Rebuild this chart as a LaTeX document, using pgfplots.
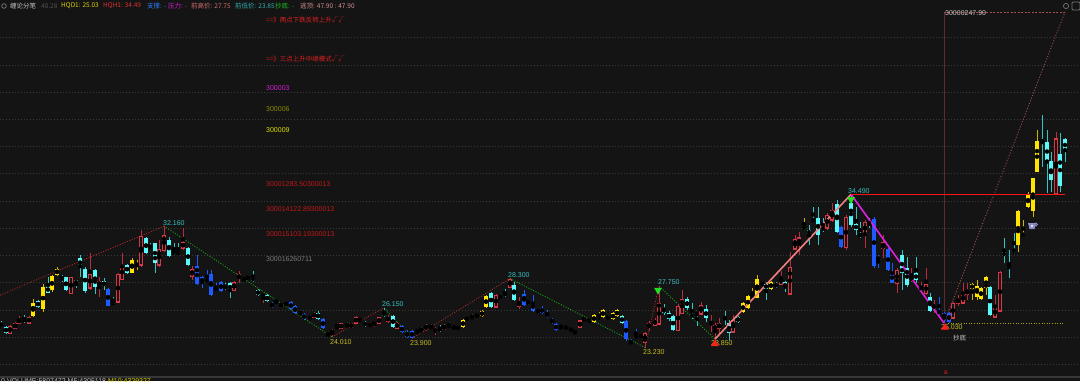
\documentclass[border=0pt]{standalone}
\usepackage{fontspec}
\setmainfont{Liberation Sans}
\newfontfamily\cjk{Noto Sans CJK SC}
\usepackage{pgfplots}
\pgfplotsset{compat=1.18}
\usepackage{pgfplotstable}
\definecolor{bg}{HTML}{141414}
\definecolor{gridc}{HTML}{3A3A3A}
\definecolor{cyb}{HTML}{5AF8F8}
\definecolor{cyw}{HTML}{34C4C4}
\definecolor{blb}{HTML}{1E5BFF}
\definecolor{rdb}{HTML}{D63848}
\definecolor{rdw}{HTML}{B82E40}
\definecolor{yeb}{HTML}{FFE400}
\definecolor{yew}{HTML}{D0B400}
\definecolor{zzred}{HTML}{A82828}
\definecolor{zzgreen}{HTML}{17A317}
\definecolor{salmon}{HTML}{F08080}
\definecolor{magline}{HTML}{E020E0}
\definecolor{brownd}{HTML}{A05050}
\definecolor{vline}{HTML}{5A2C2C}
\definecolor{hred}{HTML}{FF1414}
\definecolor{ydot}{HTML}{A8A800}
\definecolor{lblteal}{HTML}{38C0C0}
\definecolor{lblyel}{HTML}{C8C020}
\definecolor{trired}{HTML}{FF2020}
\definecolor{trigreen}{HTML}{20E020}
\definecolor{tgray}{HTML}{C8C8C8}
\definecolor{tdgray}{HTML}{525252}
\definecolor{tyel}{HTML}{DCD000}
\definecolor{tred}{HTML}{E03030}
\definecolor{tblue}{HTML}{2F7FFF}
\definecolor{tmag}{HTML}{D020D0}
\definecolor{tpink}{HTML}{D07070}
\definecolor{tteal}{HTML}{30B0B0}
\definecolor{tgreen}{HTML}{20C020}
\definecolor{tpink2}{HTML}{D09090}
\definecolor{nred}{HTML}{E02020}
\definecolor{nolive}{HTML}{8C8C00}
\definecolor{nyel}{HTML}{E0E000}
\definecolor{ndred}{HTML}{C01818}
\definecolor{ngray}{HTML}{7A7A7A}
\definecolor{cupc}{HTML}{8C8CC8}
\definecolor{iconc}{HTML}{737373}
\definecolor{sepc}{HTML}{383838}
\definecolor{volc}{HTML}{BFBFBF}
\definecolor{volyel}{HTML}{D8D000}

\pgfplotstableread[row sep=\\]{
x o h l c \\
1 24.96 25.18 24.66 24.73 \\
6 24.73 24.81 24.22 24.29 \\
24 25.32 25.62 25.03 25.18 \\
38 26.65 26.72 26.13 26.21 \\
48 27.75 28.41 27.23 27.23 \\
62 28.41 28.56 28.04 28.26 \\
66 28.41 28.41 27.38 27.45 \\
76 28.19 28.19 27.60 27.89 \\
80 29.81 30.03 28.41 29.14 \\
85 29.00 29.14 27.23 27.38 \\
95 28.92 29.00 27.16 27.67 \\
104 28.11 28.33 27.45 27.75 \\
113 26.52 26.94 26.43 26.48 \\
127 29.29 29.36 28.63 28.70 \\
146 31.28 31.35 30.10 30.17 \\
150 30.61 30.91 30.39 30.54 \\
155 30.91 30.91 28.70 29.44 \\
169 31.13 31.35 29.88 29.95 \\
174 30.25 30.91 30.03 30.17 \\
178 30.19 30.91 30.03 30.15 \\
188 30.54 30.61 29.22 29.29 \\
225 27.69 27.97 27.45 27.65 \\
230 27.97 28.04 26.86 27.38 \\
253 28.41 28.85 28.04 28.11 \\
258 27.45 27.53 27.01 27.08 \\
267 27.08 27.16 26.57 26.65 \\
318 25.76 25.91 25.25 25.32 \\
337 24.75 25.03 24.66 24.71 \\
347 24.83 25.10 24.73 24.79 \\
360 25.32 25.40 25.10 25.18 \\
365 25.10 25.18 24.73 24.81 \\
384 25.84 26.15 25.47 25.54 \\
393 25.54 25.62 24.66 24.73 \\
417 24.39 24.59 24.29 24.35 \\
421 24.51 24.73 24.37 24.44 \\
431 24.75 24.96 24.59 24.71 \\
440 24.66 24.88 24.37 24.51 \\
449 24.83 25.10 24.73 24.79 \\
458 24.73 24.88 24.51 24.66 \\
491 27.23 27.31 26.13 26.21 \\
500 26.96 27.08 26.72 26.92 \\
505 27.23 27.53 26.94 27.08 \\
514 27.82 28.04 26.65 26.72 \\
528 26.59 26.72 26.35 26.55 \\
538 25.93 26.06 25.69 25.89 \\
589 25.25 25.32 25.10 25.18 \\
608 25.54 25.62 25.25 25.32 \\
622 25.54 25.62 24.96 25.03 \\
664 26.13 26.43 25.62 25.76 \\
669 25.76 25.91 25.18 25.32 \\
673 25.54 25.62 24.44 24.51 \\
687 26.79 26.94 25.98 26.13 \\
692 25.69 26.50 25.32 25.47 \\
697 25.71 25.84 24.81 25.67 \\
706 26.06 26.35 25.10 25.40 \\
725 25.47 25.91 24.88 25.32 \\
729 25.03 25.25 23.78 24.29 \\
738 25.47 25.54 25.03 25.10 \\
766 27.89 28.04 26.72 27.53 \\
776 27.97 28.04 27.60 27.67 \\
785 28.04 28.11 27.31 27.60 \\
809 31.86 32.23 30.76 31.57 \\
813 32.62 33.56 32.45 32.58 \\
818 32.75 33.56 30.76 31.50 \\
823 32.08 32.75 31.72 31.86 \\
837 33.78 34.07 31.64 31.72 \\
851 33.85 34.49 32.08 32.23 \\
856 32.31 33.56 31.50 31.86 \\
860 31.52 32.45 31.28 31.48 \\
869 32.33 32.75 32.01 32.29 \\
902 30.03 30.39 27.45 28.70 \\
907 29.07 29.88 27.67 27.82 \\
916 28.70 29.88 27.97 28.19 \\
930 26.94 27.23 25.84 25.91 \\
990 27.67 27.75 25.54 25.62 \\
1004 30.25 31.28 29.44 29.95 \\
1009 29.22 30.39 28.33 29.07 \\
1014 30.47 31.64 30.17 30.25 \\
1042 38.36 40.33 36.49 38.32 \\
1047 38.34 39.22 34.59 36.94 \\
1051 36.94 37.60 34.66 35.55 \\
1060 37.45 39.00 34.66 35.10 \\
1065 38.56 38.63 36.86 37.68 \\
}\cyT

\pgfplotstableread[row sep=\\]{
x o h l c \\
108 27.53 27.60 26.28 26.28 \\
197 29.22 30.03 27.82 27.89 \\
202 28.41 28.48 27.60 27.97 \\
207 28.26 28.92 27.97 28.04 \\
211 28.63 28.92 27.01 27.08 \\
216 27.60 27.97 27.31 27.38 \\
221 28.04 28.11 27.31 27.38 \\
272 26.50 26.57 26.13 26.21 \\
276 26.72 26.79 26.43 26.50 \\
281 26.43 26.50 26.21 26.28 \\
286 26.45 26.50 26.35 26.41 \\
291 26.57 26.65 25.98 26.06 \\
295 26.28 26.35 25.69 25.76 \\
304 25.69 25.76 25.25 25.32 \\
310 25.47 25.54 25.25 25.32 \\
323 25.32 25.40 24.59 24.66 \\
328 24.29 24.37 24.03 24.07 \\
402 24.81 24.88 24.29 24.37 \\
407 24.37 24.51 23.93 24.00 \\
412 24.44 24.51 23.90 23.93 \\
524 27.16 27.45 26.28 26.35 \\
533 26.57 27.08 25.84 25.91 \\
542 26.13 26.28 25.69 25.76 \\
547 25.76 25.98 25.40 25.47 \\
552 25.32 25.40 24.96 25.03 \\
556 24.96 25.03 24.44 24.51 \\
561 24.81 24.88 24.51 24.73 \\
566 24.81 24.88 24.51 24.59 \\
571 24.66 24.73 24.37 24.44 \\
575 24.44 24.51 24.15 24.29 \\
626 25.18 25.25 23.71 23.85 \\
631 23.71 23.85 23.41 23.48 \\
636 24.07 24.59 23.93 24.00 \\
641 24.15 24.22 23.93 24.00 \\
841 32.08 32.16 30.54 30.61 \\
874 32.67 32.82 29.07 29.22 \\
878 29.88 30.03 29.07 29.66 \\
888 30.47 30.54 28.85 28.92 \\
892 28.78 29.44 27.97 27.97 \\
939 25.91 26.94 25.62 25.76 \\
944 25.76 25.84 25.03 25.40 \\
949 25.76 25.84 25.03 25.10 \\
}\blT

\pgfplotstableread[row sep=\\]{
x o h l c \\
10 24.29 24.88 24.22 24.81 \\
15 24.66 25.10 24.59 24.96 \\
19 25.03 25.54 24.96 25.32 \\
29 25.03 25.54 24.96 25.47 \\
71 27.23 28.41 27.16 28.41 \\
90 27.60 30.17 27.45 28.63 \\
99 27.75 28.41 26.94 28.11 \\
118 26.57 28.70 26.50 28.63 \\
122 28.26 30.17 28.19 29.29 \\
141 29.29 31.86 29.14 31.42 \\
159 29.29 31.13 29.14 30.47 \\
164 30.39 32.16 30.25 31.50 \\
183 30.54 32.01 30.39 30.98 \\
192 28.48 29.22 28.19 29.00 \\
234 27.45 28.11 27.38 28.04 \\
239 28.33 28.85 27.97 28.56 \\
244 28.19 28.41 28.11 28.33 \\
263 26.94 27.23 26.50 27.16 \\
300 25.69 25.91 25.62 25.84 \\
314 25.47 25.84 25.40 25.76 \\
332 24.29 24.59 24.01 24.44 \\
341 24.66 25.03 24.59 24.96 \\
351 24.73 25.03 24.66 24.96 \\
356 25.03 25.54 24.96 25.47 \\
370 24.81 25.10 24.73 24.96 \\
374 24.96 25.18 24.73 25.03 \\
379 25.03 25.47 24.96 25.40 \\
388 25.18 25.62 25.03 25.47 \\
397 24.66 25.10 24.59 25.03 \\
426 24.59 24.96 24.44 24.81 \\
435 24.37 24.73 24.15 24.66 \\
444 24.59 24.96 24.51 24.81 \\
454 24.66 24.81 24.59 24.73 \\
496 26.21 27.16 26.13 27.08 \\
510 27.67 28.30 27.60 28.26 \\
519 26.28 26.94 26.06 26.57 \\
580 24.73 25.25 24.66 25.18 \\
584 25.30 25.47 25.10 25.34 \\
645 23.63 24.37 23.23 24.29 \\
649 24.73 25.18 24.44 24.96 \\
655 24.88 25.40 24.81 25.25 \\
659 24.96 27.75 24.88 26.50 \\
678 24.51 26.43 24.44 26.28 \\
682 25.76 27.45 25.69 26.79 \\
701 25.69 26.57 25.62 26.35 \\
711 24.96 25.62 24.37 25.10 \\
715 24.51 25.03 23.85 24.88 \\
719 24.66 25.40 24.29 24.96 \\
733 24.37 25.62 24.29 25.25 \\
781 27.89 28.85 27.82 28.41 \\
790 27.16 30.25 27.08 29.14 \\
795 30.47 31.50 30.39 31.20 \\
799 30.83 31.72 30.03 31.28 \\
827 32.01 33.11 31.86 32.97 \\
832 32.60 33.85 32.45 33.33 \\
846 30.61 32.97 30.39 32.82 \\
865 31.57 32.60 30.54 32.45 \\
883 30.54 31.50 29.81 30.98 \\
897 27.97 29.07 27.23 28.92 \\
911 28.19 29.07 28.04 28.41 \\
921 27.53 28.04 27.23 27.67 \\
926 27.23 29.07 27.08 27.89 \\
934 26.13 26.72 25.76 26.35 \\
953 25.40 26.57 25.32 26.50 \\
958 26.50 27.08 26.28 26.79 \\
963 26.50 27.97 26.43 27.23 \\
967 27.16 27.97 26.72 27.45 \\
995 25.47 27.08 25.40 26.21 \\
1000 25.91 28.85 25.84 28.78 \\
1056 34.51 39.07 34.44 38.56 \\
}\rdT

\pgfplotstableread[row sep=\\]{
x o h l c \\
33 25.54 26.79 25.47 26.50 \\
43 26.06 27.89 25.84 27.67 \\
52 27.45 28.56 27.31 28.48 \\
57 28.56 29.14 28.48 29.00 \\
132 28.70 29.81 28.70 29.66 \\
137 29.22 29.66 28.92 29.44 \\
248 28.26 28.56 28.19 28.48 \\
463 24.73 25.32 24.66 25.25 \\
467 25.25 25.54 25.18 25.47 \\
472 25.40 25.69 25.32 25.47 \\
477 25.47 25.76 25.40 25.69 \\
482 25.54 25.98 25.47 25.91 \\
486 26.21 27.08 26.13 27.01 \\
594 25.10 25.69 25.03 25.62 \\
599 25.40 25.84 25.32 25.47 \\
603 25.47 26.06 25.40 25.98 \\
613 25.32 25.84 25.25 25.76 \\
617 25.54 26.06 25.47 25.98 \\
743 25.84 26.57 25.76 26.50 \\
748 26.13 27.08 26.06 27.01 \\
752 26.94 27.60 26.86 27.16 \\
757 26.86 28.56 26.86 28.26 \\
762 27.82 28.11 27.75 28.04 \\
771 27.53 28.11 27.45 28.04 \\
804 31.94 32.75 31.86 32.16 \\
972 27.53 27.97 26.72 27.89 \\
977 26.94 28.19 26.72 27.75 \\
981 26.79 27.67 26.72 27.60 \\
986 27.60 28.48 27.08 28.41 \\
1018 30.76 33.33 30.25 33.26 \\
1023 31.42 32.60 31.35 31.64 \\
1028 33.56 34.66 33.48 34.44 \\
1033 33.26 35.69 32.82 35.69 \\
1037 36.12 39.22 36.12 38.41 \\
}\yeT

\pgfplotsset{
  wickst/.style={forget plot, only marks, mark=none,
    error bars/.cd, y dir=both, y explicit, error mark=none,
    error bar style={line width=1pt, color=#1}},
  bodyst/.style 2 args={forget plot, only marks, mark=none,
    error bars/.cd, y dir=both, y explicit, error mark=none,
    error bar style={line width=#2, color=#1}},
}
\newcommand{\wick}[2]{\addplot[wickst=#1] table[x=x, y expr={(\thisrow{h}+\thisrow{l})/2}, y error expr={(\thisrow{h}-\thisrow{l})/2}]{#2};}
\newcommand{\body}[3]{\addplot[bodyst={#1}{#3}] table[x=x, y expr={(\thisrow{o}+\thisrow{c})/2}, y error expr={max(abs(\thisrow{o}-\thisrow{c})/2,0.045)}]{#2};}

\begin{document}
\begin{tikzpicture}
\fill[bg] (0,0) rectangle (1080pt,381pt);
\begin{axis}[
  at={(0,0)}, anchor=south west, scale only axis,
  width=1080pt, height=381pt,
  xmin=0, xmax=1080, ymin=20.77, ymax=48.78,
  axis line style={draw=none},
  xtick=\empty, ytick={22,24,...,46}, yticklabels={}, major tick length=0pt,
  ymajorgrids, grid style={color=gridc, line width=0.7pt, dash pattern=on 0.8pt off 2.2pt},
  clip=true,
]
% zigzag
\addplot[forget plot, color=zzred, line width=0.9pt, dash pattern=on 1pt off 1.6pt] coordinates {(0,27.08) (164,32.16)};
\addplot[forget plot, color=zzred, line width=0.9pt, dash pattern=on 1pt off 1.6pt] coordinates {(332,24.01) (384,26.15)};
\addplot[forget plot, color=zzred, line width=0.9pt, dash pattern=on 1pt off 1.6pt] coordinates {(412,23.90) (510,28.30)};
\addplot[forget plot, color=zzred, line width=0.9pt, dash pattern=on 1pt off 1.6pt] coordinates {(645,23.23) (659,27.75)};
\addplot[forget plot, color=zzgreen, line width=0.9pt, dash pattern=on 1pt off 1.6pt] coordinates {(164,32.16) (332,24.01)};
\addplot[forget plot, color=zzgreen, line width=0.9pt, dash pattern=on 1pt off 1.6pt] coordinates {(384,26.15) (412,23.90)};
\addplot[forget plot, color=zzgreen, line width=0.9pt, dash pattern=on 1pt off 1.6pt] coordinates {(510,28.30) (645,23.23)};
\addplot[forget plot, color=zzgreen, line width=0.9pt, dash pattern=on 1pt off 1.6pt] coordinates {(659,27.75) (715,23.85)};
% vertical and top lines
\addplot[forget plot, color=vline, line width=1pt] coordinates {(944,47.90) (944,25.40)};
\addplot[forget plot, color=brownd, line width=0.9pt, dash pattern=on 2pt off 1.5pt] coordinates {(944,47.90) (1065,47.90)};
\addplot[forget plot, color=brownd, line width=0.9pt, dash pattern=on 1pt off 1.8pt] coordinates {(944,25.03) (1065,47.90)};
\addplot[forget plot, color=ydot, line width=0.9pt, dash pattern=on 1pt off 1.6pt] coordinates {(948,25.03) (1065,25.03)};
% candles
\wick{cyw}{\cyT}
\wick{blb}{\blT}
\wick{rdw}{\rdT}
\wick{yew}{\yeT}
\body{cyb}{\cyT}{3.8pt}
\body{blb}{\blT}{3.8pt}
\body{yeb}{\yeT}{3.8pt}
\addplot[bodyst={rdb}{4.2pt}] table[x=x, y expr={(\thisrow{o}+\thisrow{c})/2}, y error expr={abs(\thisrow{o}-\thisrow{c})/2+0.04}]{\rdT};
\addplot[bodyst={bg}{1.9pt}] table[x=x, y expr={(\thisrow{o}+\thisrow{c})/2}, y error expr={max(abs(\thisrow{o}-\thisrow{c})/2-0.045,0)}]{\rdT};
% trend lines
\addplot[forget plot, color=salmon, line width=1.6pt] coordinates {(715,23.85) (851,34.49)};
\addplot[forget plot, color=magline, line width=1.6pt] coordinates {(851,34.49) (944,25.03)};
\addplot[forget plot, color=hred, line width=1.5pt] coordinates {(851,34.49) (1065,34.49)};
% pivot labels
\begin{scope}[every node/.style={anchor=west, inner sep=0pt, font=\fontsize{7}{8}\selectfont}]
\node[text=lblteal] at (axis cs:163,32.38) {32.160};
\node[text=lblyel] at (axis cs:330,23.63) {24.010};
\node[text=lblteal] at (axis cs:382,26.43) {26.150};
\node[text=lblyel] at (axis cs:410,23.56) {23.900};
\node[text=lblteal] at (axis cs:508,28.56) {28.300};
\node[text=lblteal] at (axis cs:658,28.04) {27.750};
\node[text=lblyel] at (axis cs:643,22.90) {23.230};
\node[text=lblyel] at (axis cs:711,23.56) {23.850};
\node[text=lblteal] at (axis cs:848,34.74) {34.490};
\node[text=lblyel] at (axis cs:941,24.73) {25.030};
\node[text=tgray, font=\cjk\fontsize{6.5}{7}\selectfont] at (axis cs:953,23.93) {抄底};
\node[text=tgray] at (axis cs:945,47.82) {30000247.90};
\end{scope}
% pivot triangles
\addplot[forget plot, only marks, mark=triangle*, mark size=4pt, color=trired] coordinates {(715,23.50) (945,24.70)};
\addplot[forget plot, only marks, mark=triangle*, mark size=4pt, color=trigreen, mark options={rotate=180}] coordinates {(658,27.45) (851,34.12)};
\end{axis}
% header row
\begin{scope}[every node/.style={anchor=west, inner sep=0pt, font=\cjk\fontsize{6.5}{7}\selectfont}]
\draw[iconc, line width=0.8pt] (4pt,375pt) circle (2.3pt);
\node[text=tgray] at (10pt,375pt) {缠论分笔};
\node[text=tdgray] at (41pt,375pt) {40.28};
\node[text=tyel] at (61pt,375pt) {HQD1: 25.03};
\node[text=tred] at (103pt,375pt) {HQH1: 34.49};
\node[text=tblue] at (147pt,375pt) {支撑: -};
\node[text=tmag] at (168pt,375pt) {压力: -};
\node[text=tpink] at (191pt,375pt) {前高价: 27.75};
\node[text=tteal] at (235pt,375pt) {前低价: 23.85};
\node[text=tgreen] at (275pt,375pt) {抄底: -};
\node[text=tpink2] at (300pt,375pt) {逃顶: 47.90 : 47.90};
% left notes
\node[text=nred] at (266pt,361pt) {==》两点下跌反转上升√√};
\node[text=nred] at (266pt,322pt) {==》三点上升中继模式√√};
\end{scope}
\begin{scope}[every node/.style={anchor=west, inner sep=0pt, font=\fontsize{7}{8}\selectfont}]
\node[text=tmag] at (266pt,293pt) {300003};
\node[text=nolive] at (266pt,272pt) {300006};
\node[text=nyel] at (266pt,251pt) {300009};
\node[text=ndred] at (266pt,197pt) {30001283.50300013};
\node[text=ndred] at (266pt,172pt) {300014122.89300013};
\node[text=ndred] at (266pt,147pt) {300015103.19300013};
\node[text=ngray] at (266pt,122pt) {300016260711};
\end{scope}
% cup icon
\fill[cupc] (1028pt,158pt) -- (1036pt,158pt) -- (1034.5pt,152pt) -- (1029.5pt,152pt) -- cycle;
\draw[cupc, line width=0.8pt] (1036pt,156.5pt) circle (1.5pt);
\fill[white] (1032pt,155pt) circle (1.1pt);
% top right icons
\draw[iconc, line width=0.7pt] (1066pt,375pt) circle (2.6pt);
\draw[iconc, line width=0.8pt, rounded corners=1pt] (1072pt,371pt) rectangle (1080pt,379pt);
% bottom
\draw[sepc, line width=1.2pt] (0pt,4pt) -- (1080pt,4pt);
\node[anchor=center, text=trired, font=\fontsize{5}{5}\selectfont, inner sep=0pt] at (946pt,8pt) {B};
\node[anchor=north west, inner sep=0pt, font=\fontsize{7}{8}\selectfont, text=volc] at (1pt,2.5pt) {0 VOLUME:5807472 M5:4305118 \textcolor{volyel}{M10:4329327}};
\pgfresetboundingbox
\path[use as bounding box] (0,0) rectangle (1080pt,381pt);
\end{tikzpicture}
\end{document}
